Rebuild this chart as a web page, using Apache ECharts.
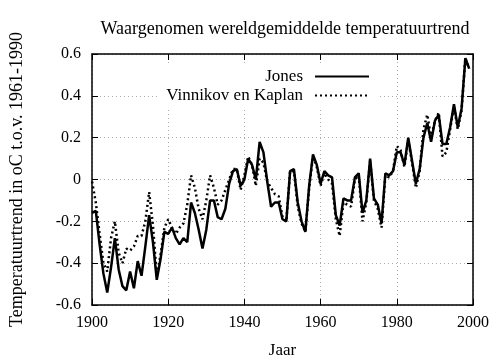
<!DOCTYPE html>
<html>
<head>
<meta charset="utf-8">
<script src="https://cdn.jsdelivr.net/npm/echarts@6/dist/echarts.min.js"></script>
<style>
html,body{margin:0;padding:0;background:#fff;}
#chart{width:504px;height:360px;}
</style>
</head>
<body>
<div id="chart"></div>
<script>
var startYear = 1900;
var jones = [
 -0.16,-0.15,-0.31,-0.45,-0.54,-0.42,-0.28,-0.43,-0.51,-0.53,
 -0.44,-0.52,-0.39,-0.46,-0.32,-0.17,-0.30,-0.48,-0.38,-0.25,
 -0.26,-0.23,-0.28,-0.31,-0.28,-0.30,-0.11,-0.16,-0.24,-0.33,
 -0.24,-0.10,-0.10,-0.18,-0.19,-0.14,-0.02,0.04,0.05,-0.03,
 0.00,0.10,0.07,0.00,0.18,0.13,-0.01,-0.13,-0.11,-0.11,
 -0.19,-0.20,0.04,0.05,-0.11,-0.20,-0.25,-0.03,0.12,0.07,
 -0.02,0.04,0.02,0.01,-0.17,-0.22,-0.09,-0.10,-0.10,0.01,
 0.03,-0.16,-0.10,0.10,-0.09,-0.12,-0.21,0.03,0.02,0.04,
 0.13,0.13,0.07,0.20,0.09,-0.02,0.05,0.20,0.27,0.18,
 0.28,0.31,0.17,0.17,0.25,0.36,0.25,0.34,0.58,0.53
];
var vinnikov = [
 -0.01,-0.11,-0.26,-0.40,-0.44,-0.28,-0.20,-0.35,-0.40,-0.33,
 -0.34,-0.32,-0.27,-0.27,-0.20,-0.06,-0.22,-0.46,-0.36,-0.23,
 -0.19,-0.23,-0.26,-0.23,-0.21,-0.12,0.02,-0.04,-0.14,-0.19,
 -0.10,0.02,-0.04,-0.12,-0.10,-0.05,0.00,0.05,0.05,-0.05,
 0.02,0.11,0.07,-0.03,0.10,0.08,-0.01,-0.04,-0.07,-0.08,
 -0.18,-0.20,0.04,0.04,-0.13,-0.21,-0.25,-0.04,0.11,0.06,
 -0.03,0.03,0.00,-0.02,-0.19,-0.27,-0.11,-0.12,-0.13,0.00,
 0.02,-0.20,-0.11,0.09,-0.10,-0.14,-0.23,0.02,0.01,0.04,
 0.16,0.14,0.06,0.19,0.08,-0.04,0.04,0.24,0.31,0.20,
 0.28,0.32,0.11,0.13,0.24,0.35,0.24,0.33,0.58,0.53
];
var seriesNames = ['Jones', 'Vinnikov en Kaplan'];
var xTicks = [1900, 1920, 1940, 1960, 1980, 2000];
var yTicks = [-0.6, -0.4, -0.2, 0, 0.2, 0.4, 0.6];

function pairs(arr){ return arr.map(function(v,i){ return [startYear+i, v]; }); }

var FONT = '"Liberation Serif", "DejaVu Serif", serif';
var chart = echarts.init(document.getElementById('chart'), null, {renderer:'canvas'});
var tickStyle = {show:true, inside:true, length:6, lineStyle:{color:'#000', width:1}};
var axisLineStyle = {show:true, onZero:false, lineStyle:{color:'#000', width:1.5}};
var legendCommon = {orient:'vertical', right:124, align:'right',
  itemWidth:54, itemHeight:14, backgroundColor:'#fff',
  itemStyle:{opacity:0},
  textStyle:{fontFamily:FONT, fontSize:17, color:'#000', padding:[0,7,0,0]}};
chart.setOption({
  animation:false,
  backgroundColor:'#fff',
  title:{
    text:'Waargenomen wereldgemiddelde temperatuurtrend',
    left:280, top:15, textAlign:'center',
    textStyle:{fontFamily:FONT, fontSize:18, fontWeight:'normal', color:'#000'}
  },
  legend:[
    Object.assign({data:[seriesNames[0]], top:65, padding:[3,10,1,110]}, legendCommon),
    Object.assign({data:[seriesNames[1]], top:86, padding:[1,10,3,8]}, legendCommon)
  ],
  grid:{left:92, right:31, top:54, bottom:55, outerBoundsMode:'none', containLabel:false},
  xAxis:[
    {type:'value', min:1900, max:2000, interval:20, position:'bottom',
     name:'Jaar', nameLocation:'middle', nameGap:37,
     nameTextStyle:{fontFamily:FONT, fontSize:17, color:'#000'},
     axisLine:axisLineStyle, axisTick:tickStyle,
     axisLabel:{fontFamily:FONT, fontSize:16, color:'#000', margin:10,
       formatter:function(v){ return String(Math.round(v)); }},
     splitLine:{show:true, lineStyle:{color:'#aaa', type:[1,3], width:1}}},
    {type:'value', min:1900, max:2000, interval:20, position:'top',
     axisLine:axisLineStyle, axisTick:tickStyle, axisLabel:{show:false}, splitLine:{show:false}}
  ],
  yAxis:[
    {type:'value', min:-0.6, max:0.6, interval:0.2, position:'left',
     name:'Temperatuurtrend in oC t.o.v. 1961-1990', nameLocation:'middle', nameGap:66,
     nameTextStyle:{fontFamily:FONT, fontSize:18, color:'#000'},
     axisLine:axisLineStyle, axisTick:tickStyle,
     axisLabel:{fontFamily:FONT, fontSize:16, color:'#000', margin:11,
       formatter:function(v){ var r=Math.round(v*10)/10; return r===0?'0':r.toFixed(1); }},
     splitLine:{show:true, lineStyle:{color:'#aaa', type:[1,3], width:1}}},
    {type:'value', min:-0.6, max:0.6, interval:0.2, position:'right',
     axisLine:axisLineStyle, axisTick:tickStyle, axisLabel:{show:false}, splitLine:{show:false}}
  ],
  series:[
    {name:seriesNames[0], type:'line', data:pairs(jones), symbol:'none',
     lineStyle:{color:'#000', width:2.5, type:'solid'}, itemStyle:{color:'#000'}, z:3},
    {name:seriesNames[1], type:'line', data:pairs(vinnikov), symbol:'none',
     lineStyle:{color:'#000', width:2.5, type:[2,3]}, itemStyle:{color:'#000'}, z:2}
  ]
});
</script>
</body>
</html>
